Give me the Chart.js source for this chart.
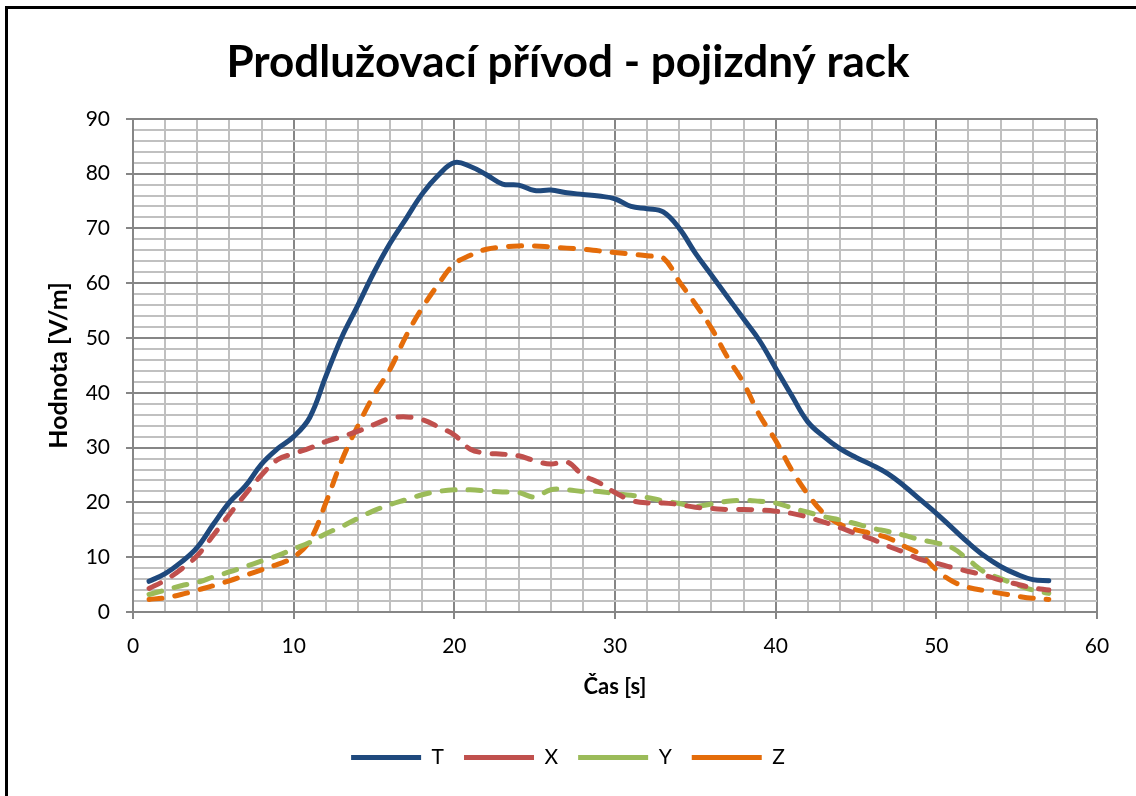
<!DOCTYPE html>
<html>
<head>
<meta charset="utf-8">
<script src="https://cdn.jsdelivr.net/npm/chart.js@4.4.1/dist/chart.umd.min.js"></script>
<style>
  html, body { margin: 0; padding: 0; background: #ffffff; }
  #wrap { position: relative; width: 1136px; height: 796px; overflow: hidden; background: #fff; }
  #frame { position: absolute; left: 5px; top: 6px; width: 1200px; height: 900px; border-left: 3px solid #000; border-top: 3px solid #000; box-sizing: border-box; pointer-events: none; }
  canvas { position: absolute; left: 0; top: 0; }
</style>
</head>
<body>
<div id="wrap">
  <canvas id="c" width="1136" height="796"></canvas>
  <div id="frame"></div>
</div>
<script>
const chartTitle = 'Prodlužovací přívod - pojizdný rack';
const xTitle = 'Čas [s]';
const yTitle = 'Hodnota [V/m]';
const seriesNames = ['T', 'X', 'Y', 'Z'];

const timeSec = [1,2,3,4,5,6,7,8,9,10,11,12,13,14,15,16,17,18,19,20,21,22,23,24,25,26,27,28,29,30,31,32,33,34,35,36,37,38,39,40,41,42,43,44,45,46,47,48,49,50,51,52,53,54,55,56,57];

const valuesT = [5.6,7.0,9.1,11.8,16.0,20.0,23.0,27.0,29.8,32.0,35.5,43.0,50.2,56.0,62.0,67.3,71.8,76.3,79.7,82.0,81.3,79.8,78.1,77.9,76.9,77.0,76.5,76.2,75.9,75.4,74.0,73.6,73.0,70.0,65.5,61.5,57.5,53.5,49.5,44.5,39.5,34.7,32.0,29.8,28.2,26.8,25.2,23.0,20.5,18.0,15.3,12.6,10.2,8.3,6.9,5.9,5.7];

const valuesX = [4.3,5.8,7.8,10.3,14.0,17.8,21.5,25.0,27.8,28.9,29.9,31.1,32.0,33.0,34.2,35.3,35.6,35.1,33.8,32.3,29.7,29.0,28.8,28.5,27.6,27.0,27.4,25.0,23.6,21.8,20.4,19.9,19.9,19.6,19.1,18.9,18.7,18.7,18.6,18.4,18.0,17.3,16.4,15.4,14.3,13.3,12.0,10.9,9.6,8.9,8.1,7.4,6.7,5.8,5.1,4.4,4.0];

const valuesY = [3.2,4.0,4.8,5.4,6.4,7.3,8.3,9.3,10.3,11.5,12.7,14.3,15.6,17.1,18.5,19.6,20.5,21.4,22.0,22.3,22.3,22.1,21.9,21.8,21.0,22.3,22.3,22.0,22.0,21.6,21.3,20.9,20.3,19.8,19.3,19.7,20.2,20.4,20.2,19.9,19.0,18.2,17.4,16.8,16.1,15.3,14.7,14.0,13.2,12.6,11.7,9.5,7.3,6.1,5.0,4.0,3.4];

const valuesZ = [2.3,2.6,3.2,4.0,4.8,5.7,6.7,7.7,8.7,10.0,13.0,19.9,27.7,34.0,39.6,44.3,50.4,55.5,59.8,63.5,65.1,66.2,66.6,66.8,66.8,66.6,66.4,66.2,65.9,65.6,65.3,65.0,64.6,60.3,56.2,51.8,46.5,41.8,35.9,31.3,25.9,21.5,18.0,16.0,15.0,14.3,13.5,12.0,10.5,7.7,5.6,4.5,3.9,3.4,2.9,2.5,2.3];

const xTickLabels = [0,10,20,30,40,50,60];
const yTickLabels = [0,10,20,30,40,50,60,70,80,90];

const colors = ['#1F497D', '#C0504D', '#9BBB59', '#E46C0A'];
const allValues = [valuesT, valuesX, valuesY, valuesZ];

const FONT = 'Lato';
const MAJOR = '#868686';
const MINOR = '#c0c0c0';

const datasets = seriesNames.map((name, i) => ({
  label: name,
  data: timeSec.map((t, k) => ({ x: t, y: allValues[i][k] })),
  borderColor: colors[i],
  backgroundColor: colors[i],
  borderWidth: 5,
  borderDash: i === 0 ? [] : [13, 13],
  borderCapStyle: 'round',
  borderJoinStyle: 'round',
  pointRadius: 0,
  pointHoverRadius: 0,
  tension: 0.4,
  fill: false
}));

const gridColor = (c) => (c.tick && c.tick.value % 10 === 0) ? MAJOR : MINOR;
const tickColor = (c) => (c.tick && c.tick.value % 10 === 0) ? MAJOR : 'rgba(0,0,0,0)';

new Chart(document.getElementById('c'), {
  type: 'line',
  data: { datasets },
  options: {
    responsive: false,
    animation: false,
    events: [],
    layout: { padding: { left: 39, right: 39, top: 0, bottom: 18 } },
    plugins: {
      title: {
        display: true,
        text: chartTitle,
        color: '#000',
        font: { family: FONT, size: 44, weight: 'bold' },
        padding: { top: 36, bottom: 30 }
      },
      legend: {
        position: 'bottom',
        labels: {
          usePointStyle: true,
          pointStyle: 'line',
          pointStyleWidth: 70,
          color: '#000',
          font: { family: FONT, size: 21 },
          padding: 20
        }
      },
      tooltip: { enabled: false }
    },
    scales: {
      x: {
        type: 'linear',
        min: 0, max: 60,
        afterFit: (s) => { s.height = 115; },
        ticks: {
          stepSize: 2,
          color: '#000',
          font: { family: FONT, size: 21 },
          padding: 15,
          maxRotation: 0,
          autoSkip: false,
          callback: (v) => xTickLabels.includes(v) ? String(v) : ''
        },
        grid: { color: gridColor, lineWidth: 2, tickColor: tickColor, tickLength: 7, drawTicks: true },
        border: { color: MAJOR, width: 2 },
        title: {
          display: true,
          text: xTitle,
          color: '#000',
          font: { family: FONT, size: 22, weight: 'bold' },
          padding: { top: 0, bottom: 27 }
        }
      },
      y: {
        min: 0, max: 90,
        afterFit: (s) => { s.width = 94; },
        ticks: {
          stepSize: 2,
          color: '#000',
          font: { family: FONT, size: 21 },
          padding: 16,
          autoSkip: false,
          callback: (v) => yTickLabels.includes(v) ? String(v) : ''
        },
        grid: { color: gridColor, lineWidth: 2, tickColor: tickColor, tickLength: 7, drawTicks: true },
        border: { color: MAJOR, width: 2 },
        title: {
          display: true,
          text: yTitle,
          color: '#000',
          font: { family: FONT, size: 25, weight: 'bold' },
          padding: { top: 5, bottom: 0 }
        }
      }
    }
  }
});
</script>
</body>
</html>
